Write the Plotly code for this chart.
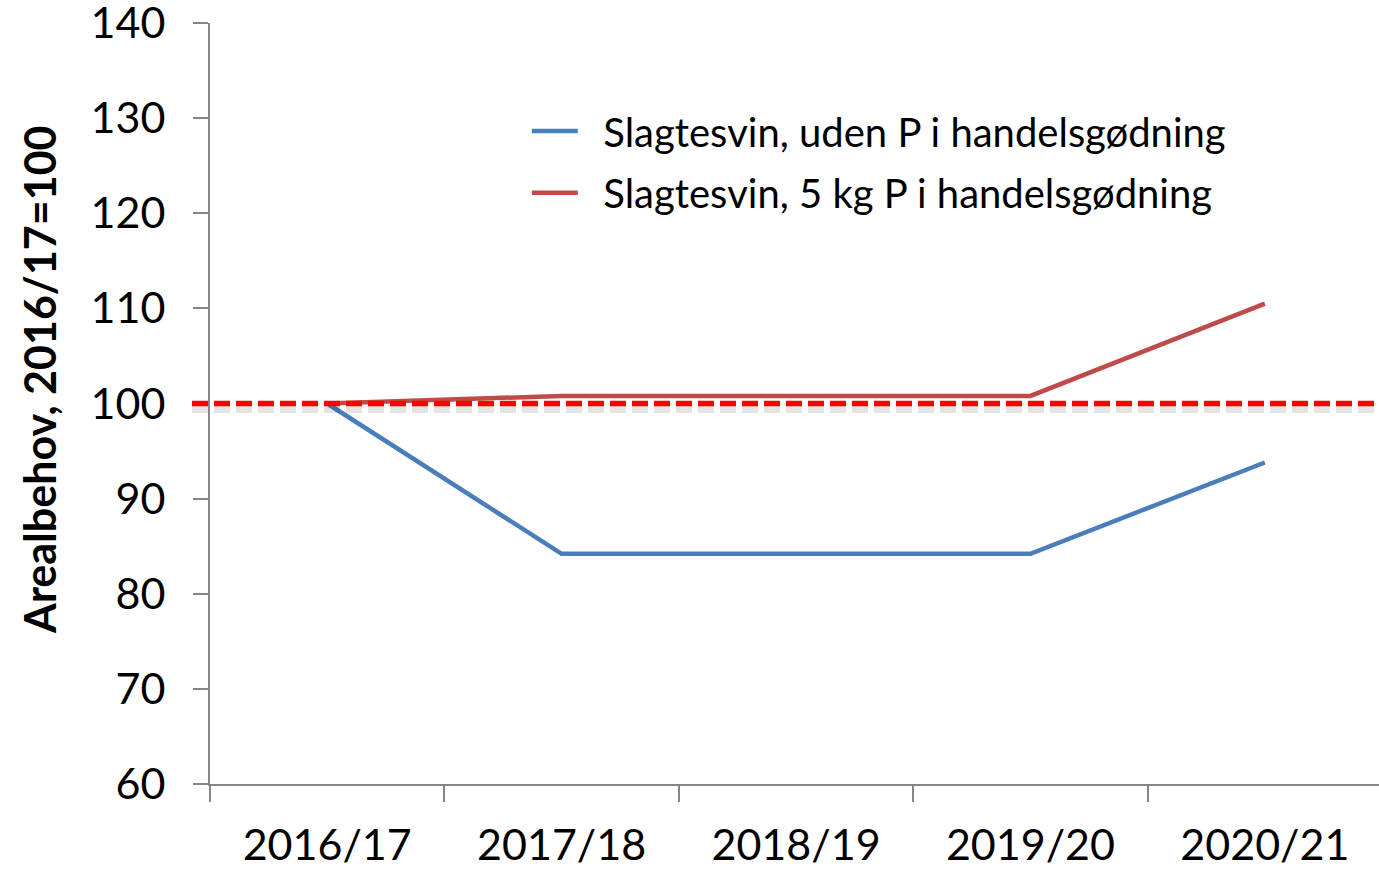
import plotly.graph_objects as go

categories = ["2016/17", "2017/18", "2018/19", "2019/20", "2020/21"]
uden_p = [100, 84.2, 84.2, 84.2, 93.8]
med_5kg_p = [100, 100.8, 100.8, 100.8, 110.5]
series_names = ["Slagtesvin, uden P i handelsgødning", "Slagtesvin, 5 kg P i handelsgødning"]
reference_level = 100
y_ticks = [60, 70, 80, 90, 100, 110, 120, 130, 140]
y_title = "Arealbehov, 2016/17=100"

FONT = "Lato"
AXIS_COLOR = "#868686"
PAD = "\u00a0\u00a0"

fig = go.Figure()
fig.add_trace(go.Scatter(x=categories, y=uden_p, mode="lines", name=PAD + series_names[0],
                         line=dict(color="#4A7EBB", width=4.5), legend="legend"))
fig.add_trace(go.Scatter(x=categories, y=med_5kg_p, mode="lines", name=PAD + series_names[1],
                         line=dict(color="#BE4B48", width=4.5), legend="legend2"))

# soft shadow of the reference line (pixel offset)
fig.add_shape(type="line", xref="paper", x0=-0.0154, x1=1, yref="y", ysizemode="pixel",
              yanchor=reference_level, y0=-6, y1=-6,
              line=dict(color="rgba(0,0,0,0.11)", width=7, dash="16px,6px"), layer="above")
fig.add_shape(type="line", xref="paper", x0=-0.0154, x1=1, yref="y",
              y0=reference_level, y1=reference_level,
              line=dict(color="#FF0000", width=5.5, dash="16px,6px"), layer="above")

fig.add_annotation(text="<b>" + y_title + "</b>", textangle=-90, xref="paper", yref="paper",
                   x=-0.1454, y=0.531, xanchor="center", yanchor="middle", showarrow=False,
                   font=dict(size=43, family=FONT, color="black"))

legend_common = dict(xanchor="left", yanchor="middle", font=dict(size=40, family=FONT),
                     bgcolor="rgba(0,0,0,0)", itemwidth=46, borderwidth=0)

fig.update_layout(
    width=1379, height=870,
    margin=dict(l=210, r=0, t=23, b=86, autoexpand=False),
    paper_bgcolor="white", plot_bgcolor="white",
    font=dict(family=FONT, color="black"),
    showlegend=True,
    legend=dict(x=0.271, y=0.858, **legend_common),
    legend2=dict(x=0.271, y=0.777, **legend_common),
    xaxis=dict(type="category", range=[-0.5, 4.487], showline=True, linecolor=AXIS_COLOR,
               linewidth=2, ticks="outside", tickson="boundaries", ticklen=16,
               tickcolor=AXIS_COLOR, tickwidth=2, showgrid=False, zeroline=False,
               tickfont=dict(size=43, family=FONT), ticklabelstandoff=22,
               automargin=False),
    yaxis=dict(range=[60, 140], tickvals=y_ticks, showline=True, linecolor=AXIS_COLOR,
               linewidth=2, ticks="outside", ticklen=15, tickcolor=AXIS_COLOR, tickwidth=2,
               showgrid=False, zeroline=False, tickfont=dict(size=43, family=FONT),
               ticklabelstandoff=19, ticklabeloverflow="allow", automargin=False),
)

fig.write_html("out.html", config={"displayModeBar": False},
               post_script="document.body.style.margin='0';document.body.style.overflow='hidden';")
